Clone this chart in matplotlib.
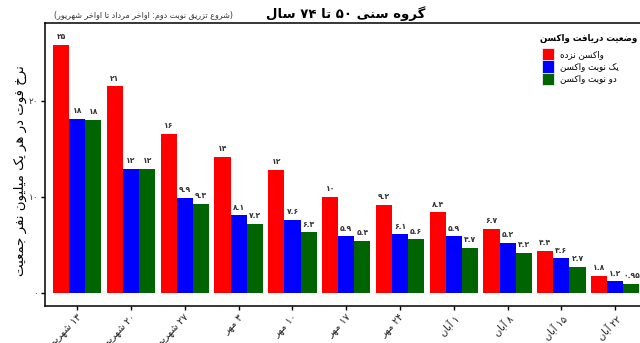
import re
import matplotlib
matplotlib.use("Agg")
import matplotlib.pyplot as plt
from matplotlib.patches import Rectangle
import numpy as np

plt.rcParams['font.family'] = ['DejaVu Sans']

# ---------------- data ----------------
categories = ["۱۳ شهریور", "۲۰ شهریور", "۲۷ شهریور", "۳ مهر", "۱۰ مهر", "۱۷ مهر",
              "۲۴ مهر", "۱ آبان", "۸ آبان", "۱۵ آبان", "۲۲ آبان"]
series_names = ["واکسن نزده", "یک نوبت واکسن", "دو نوبت واکسن"]
unvaccinated = [25.8, 21.5, 16.6, 14.2, 12.8, 10.0, 9.2, 8.4, 6.7, 4.4, 1.8]
one_dose = [18.1, 12.9, 9.9, 8.1, 7.6, 5.9, 6.1, 5.9, 5.2, 3.6, 1.2]
two_doses = [18.0, 12.9, 9.3, 7.2, 6.3, 5.4, 5.6, 4.7, 4.2, 2.7, 0.95]
unvaccinated_labels = ["۲۵", "۲۱", "۱۶", "۱۴", "۱۲", "۱۰", "۹.۲", "۸.۴", "۶.۷", "۴.۴", "۱.۸"]
one_dose_labels = ["۱۸", "۱۲", "۹.۹", "۸.۱", "۷.۶", "۵.۹", "۶.۱", "۵.۹", "۵.۲", "۳.۶", "۱.۲"]
two_doses_labels = ["۱۸", "۱۲", "۹.۳", "۷.۲", "۶.۳", "۵.۴", "۵.۶", "۴.۷", "۴.۲", "۲.۷", "۰.۹۵"]
y_ticks = [0, 10, 20]
y_tick_labels = ["۰", "۱۰", "۲۰"]
title = "گروه سنی ۵۰ تا ۷۴ سال"
subtitle = "(شروع تزریق نوبت دوم: اواخر مرداد تا اواخر شهریور)"
y_label = "نرخ فوت در هر یک میلیون نفر جمعیت"
legend_title = "وضعیت دریافت واکسن"
colors = ["#FF0000", "#0000FF", "#006400"]

# ---------------- minimal Arabic/Persian shaping + bidi ----------------
FORMS = {
    'ا': (0xFE8D, 0xFE8E), 'آ': (0xFE81, 0xFE82), 'د': (0xFEA9, 0xFEAA),
    'ذ': (0xFEAB, 0xFEAC), 'ر': (0xFEAD, 0xFEAE), 'ز': (0xFEAF, 0xFEB0),
    'و': (0xFEED, 0xFEEE),
    'ب': (0xFE8F, 0xFE90, 0xFE91, 0xFE92), 'ت': (0xFE95, 0xFE96, 0xFE97, 0xFE98),
    'ج': (0xFE9D, 0xFE9E, 0xFE9F, 0xFEA0), 'ح': (0xFEA1, 0xFEA2, 0xFEA3, 0xFEA4),
    'خ': (0xFEA5, 0xFEA6, 0xFEA7, 0xFEA8), 'س': (0xFEB1, 0xFEB2, 0xFEB3, 0xFEB4),
    'ش': (0xFEB5, 0xFEB6, 0xFEB7, 0xFEB8), 'ض': (0xFEBD, 0xFEBE, 0xFEBF, 0xFEC0),
    'ع': (0xFEC9, 0xFECA, 0xFECB, 0xFECC), 'ف': (0xFED1, 0xFED2, 0xFED3, 0xFED4),
    'ق': (0xFED5, 0xFED6, 0xFED7, 0xFED8), 'ل': (0xFEDD, 0xFEDE, 0xFEDF, 0xFEE0),
    'م': (0xFEE1, 0xFEE2, 0xFEE3, 0xFEE4), 'ن': (0xFEE5, 0xFEE6, 0xFEE7, 0xFEE8),
    'ه': (0xFEE9, 0xFEEA, 0xFEEB, 0xFEEC), 'ک': (0xFB8E, 0xFB8F, 0xFB90, 0xFB91),
    'گ': (0xFB92, 0xFB93, 0xFB94, 0xFB95), 'ی': (0xFBFC, 0xFBFD, 0xFBFE, 0xFBFF),
}
MIRROR = {'(': ')', ')': '('}
NUM_RE = re.compile(r'([0-9\u06F0-\u06F9]+(?:[.\u066B][0-9\u06F0-\u06F9]+)*)')


def shape(text):
    out = []
    n = len(text)
    for i, c in enumerate(text):
        f = FORMS.get(c)
        if f is None:
            out.append(c)
            continue
        prev = text[i - 1] if i > 0 else None
        nxt = text[i + 1] if i + 1 < n else None
        jp = prev in FORMS and len(FORMS[prev]) == 4
        jn = len(f) == 4 and nxt in FORMS
        if jp and jn:
            out.append(chr(f[3]))
        elif jp:
            out.append(chr(f[1]))
        elif jn:
            out.append(chr(f[2]))
        else:
            out.append(chr(f[0]))
    return ''.join(out)


def fa(text):
    s = shape(text)
    parts = [p for p in NUM_RE.split(s) if p]
    vis = []
    for p in reversed(parts):
        if NUM_RE.fullmatch(p):
            vis.append(p)
        else:
            vis.append(''.join(MIRROR.get(ch, ch) for ch in reversed(p)))
    return ''.join(vis)


# ---------------- figure ----------------
W, H = 640, 343
fig = plt.figure(figsize=(W / 100, H / 100), dpi=100)
ax_left, ax_right, ax_top, ax_bottom = 45, 647.5, 23, 306
ax = fig.add_axes([ax_left / W, 1 - ax_bottom / H, (ax_right - ax_left) / W, (ax_bottom - ax_top) / H])

x = np.arange(len(categories))
bw = 0.3
series = [unvaccinated, one_dose, two_doses]
labels = [unvaccinated_labels, one_dose_labels, two_doses_labels]
for k, (vals, labs, col) in enumerate(zip(series, labels, colors)):
    xs = x + (k - 1) * bw
    ax.bar(xs, vals, width=bw, color=col, edgecolor='none')
    for xi, v, lab in zip(xs, vals, labs):
        ax.text(xi, v + 0.85, fa(lab), ha='center', va='center', fontsize=5.5,
                fontweight='bold', color='#333333')

ax.set_xlim(-0.6, len(categories) - 0.4)
ax.set_ylim(-1.35, 28.1)
ax.set_yticks(y_ticks)
ax.set_yticklabels([fa(t) for t in y_tick_labels], fontsize=6.5, color='#333333')
ax.set_xticks(x)
ax.set_xticklabels([fa(c) for c in categories], rotation=45, ha='right', va='top',
                   rotation_mode='anchor', fontsize=7, color='#222222')
ax.tick_params(axis='both', length=3, width=1.0, color='black', pad=2)
for sp in ax.spines.values():
    sp.set_linewidth(1.1)
    sp.set_color('black')
ax.set_facecolor('white')

# y label
fig.text(20 / W, 1 - 171 / H, fa(y_label), rotation=90, ha='center', va='center',
         fontsize=9.5, color='black')

# titles
fig.text(346 / W, 1 - 14 / H, fa(title), ha='center', va='center', fontsize=9.5,
         fontweight='bold', color='black')
fig.text(143 / W, 1 - 15 / H, fa(subtitle), ha='center', va='center', fontsize=5.8,
         color='#333333')

# legend
fig.text(637 / W, 1 - 38 / H, fa(legend_title), ha='right', va='center', fontsize=6.2,
         fontweight='bold', color='black')
key_h = 12.3
for i, (name, col) in enumerate(zip(series_names, colors)):
    top = 48 + key_h * i
    fig.patches.append(Rectangle((542 / W, 1 - (top + key_h) / H), 12 / W, key_h / H,
                                 transform=fig.transFigure, facecolor=col,
                                 edgecolor='white', linewidth=0.5))
    fig.text(560 / W, 1 - (top + key_h / 2) / H, fa(name), ha='left', va='center',
             fontsize=6.3, color='black')

fig.savefig('out.png', dpi=100)
